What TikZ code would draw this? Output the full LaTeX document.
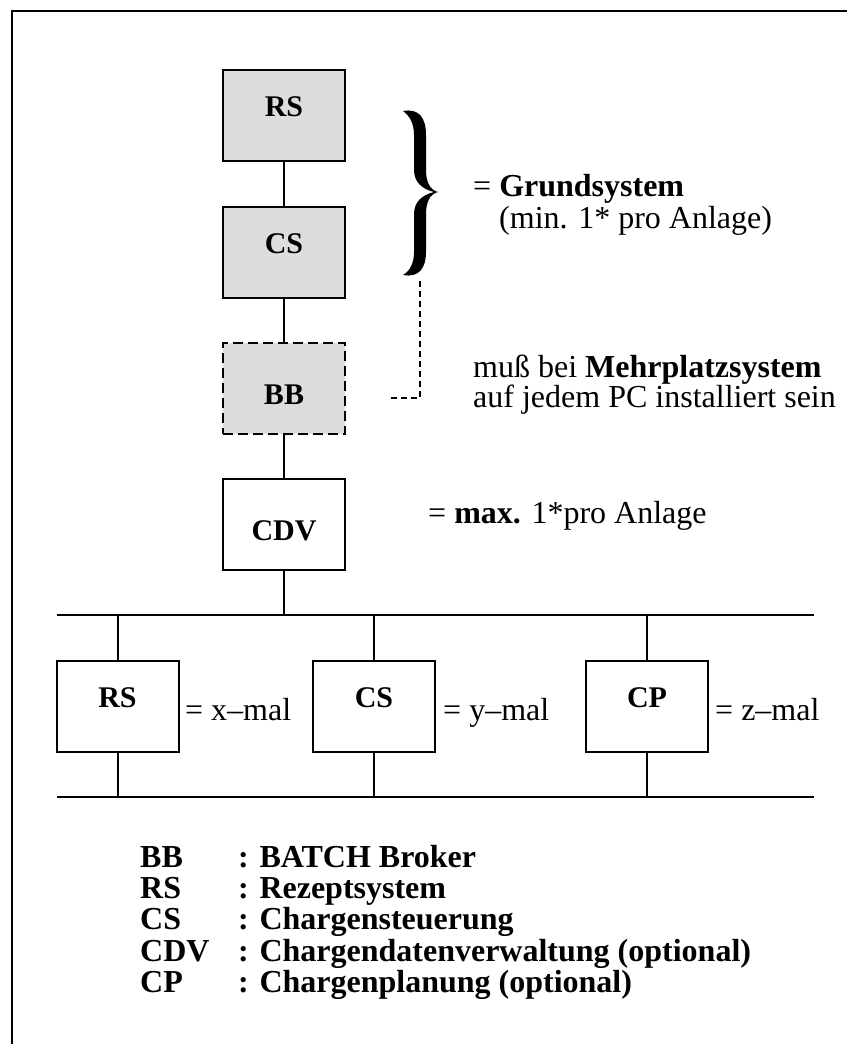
\documentclass[tikz,border=0pt]{standalone}
\usepackage{fontspec}
\setmainfont{Liberation Serif}
\definecolor{boxgray}{RGB}{221,221,221}
\begin{document}
\begin{tikzpicture}[x=1pt,y=-1pt,
  box/.style={draw, line width=2pt, minimum width=122pt, minimum height=91pt, inner sep=0pt},
  graybox/.style={box, fill=boxgray},
  dashbox/.style={box, fill=boxgray, dash pattern=on 10pt off 5pt},
  lbl/.style={anchor=base, font=\fontsize{30}{36}\selectfont\bfseries, inner sep=0pt},
  txt/.style={anchor=base west, font=\fontsize{32}{38}\selectfont, inner sep=0pt},
  leg/.style={anchor=base west, font=\fontsize{32}{38}\selectfont\bfseries, inner sep=0pt},
  conn/.style={line width=2pt},
  bus/.style={line width=2.5pt},
  dotline/.style={line width=1.6pt, dash pattern=on 6pt off 4pt}]
\useasboundingbox (0,0) rectangle (847,1044);
\fill[white] (0,0) rectangle (847,1044);
% frame
\draw[line width=1.6pt] (12,1044) -- (12,11) -- (847,11);

% upper chain
\node[graybox] (rs1) at (284,115.5) {};
\node[graybox] (cs1) at (284,252.5) {};
\node[dashbox] (bb) at (284,388.5) {};
\node[box] (cdv) at (284,524.5) {};
\node[lbl] (rs1t) at (284,116) {RS};
\node[lbl] (cs1t) at (284,253) {CS};
\node[lbl] (bbt) at (284,404) {BB};
\node[lbl] (cdvt) at (284,540) {CDV};
\draw[conn] (rs1.south) -- (cs1.north);
\draw[conn] (cs1.south) -- (bb.north);
\draw[conn] (bb.south) -- (cdv.north);

% buses
\coordinate (b1w) at (57,615);
\coordinate (b1e) at (814,615);
\coordinate (b2w) at (57,797);
\coordinate (b2e) at (814,797);
\draw[bus] (b1w) -- (b1e);
\draw[bus] (b2w) -- (b2e);
\draw[conn] (cdv.south) -- (cdv.south |- b1w);

% lower boxes
\node[box] (rs2) at (117.5,706.5) {};
\node[box] (cs2) at (374,706.5) {};
\node[box] (cp2) at (647,706.5) {};
\node[lbl] (rs2t) at (117.5,707) {RS};
\node[lbl] (cs2t) at (374,707) {CS};
\node[lbl] (cp2t) at (647,707) {CP};
\foreach \b in {rs2,cs2,cp2}{
  \draw[conn] (\b.north) -- (\b.north |- b1w);
  \draw[conn] (\b.south) -- (\b.south |- b2w);
}
\node[txt] (xm) at (185,720) {= x--mal};
\node[txt] (ym) at (443,720) {= y--mal};
\node[txt] (zm) at (715,720) {= z--mal};

% brace
\fill (403,111) .. controls (419,108) and (426,118) .. (426,135)
  -- (426,170) .. controls (426,182) and (430,190) .. (438,192)
  .. controls (430,194) and (426,202) .. (426,214)
  -- (426,252) .. controls (426,268) and (419,278) .. (403,275)
  .. controls (410,271) and (414,263) .. (414,252)
  -- (414,214) .. controls (414,202) and (422,195) .. (434,192)
  .. controls (422,189) and (414,182) .. (414,170)
  -- (414,135) .. controls (414,124) and (410,116) .. (403,111) -- cycle;

% dashed link
\coordinate (dtop) at (420,281);
\coordinate (dcorner) at (420,398);
\coordinate (dend) at (389,398);
\draw[dotline] (dtop) -- (dcorner) -- (dend);

% annotations
\node[txt] (grund) at (473,196) {= \textbf{Grundsystem}};
\node[txt] (grund2) at (499,228) {(min. 1* pro Anlage)};
\node[txt] (mehr1) at (473,377) {muß bei \textbf{Mehrplatzsystem}};
\node[txt] (mehr2) at (473,407) {auf jedem PC installiert sein};
\node[txt] (maxt) at (428,523) {= \textbf{max.} 1*pro Anlage};

% legend
\node[leg] (l1a) at (140,867) {BB};
\node[leg] (l1b) at (238,867) {: BATCH Broker};
\node[leg] (l2a) at (140,898) {RS};
\node[leg] (l2b) at (238,898) {: Rezeptsystem};
\node[leg] (l3a) at (140,929.5) {CS};
\node[leg] (l3b) at (238,929.5) {: Chargensteuerung};
\node[leg] (l4a) at (140,961) {CDV};
\node[leg] (l4b) at (238,961) {: Chargendatenverwaltung (optional)};
\node[leg] (l5a) at (140,992) {CP};
\node[leg] (l5b) at (238,992) {: Chargenplanung (optional)};
\end{tikzpicture}
\end{document}
